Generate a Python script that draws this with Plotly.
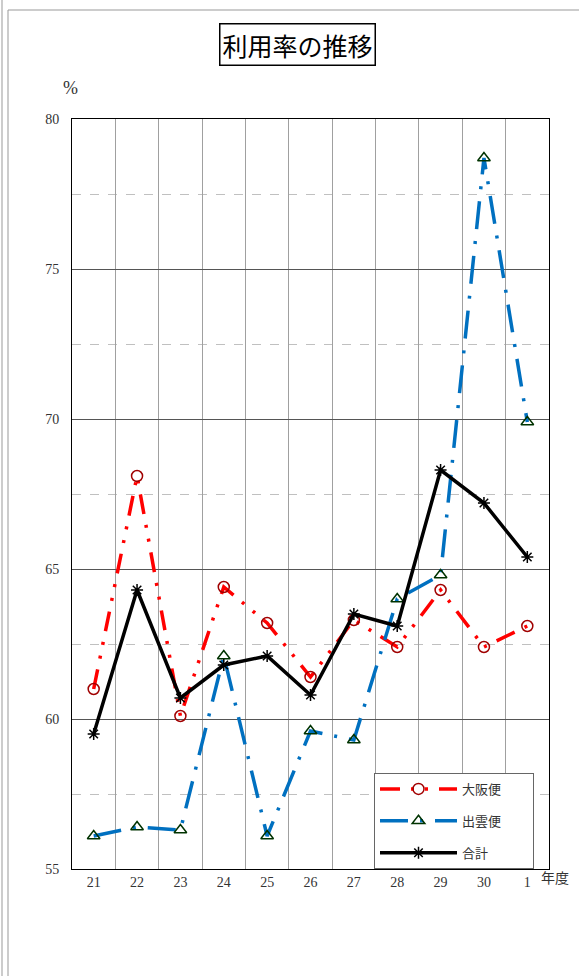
import plotly.graph_objects as go

years = ["21", "22", "23", "24", "25", "26", "27", "28", "29", "30", "1"]
osaka = [61.0, 68.1, 60.1, 64.4, 63.2, 61.4, 63.3, 62.4, 64.3, 62.4, 63.1]
izumo = [56.1, 56.4, 56.3, 62.1, 56.1, 59.6, 59.3, 64.0, 64.8, 78.7, 69.9]
total = [59.5, 64.3, 60.7, 61.8, 62.1, 60.8, 63.5, 63.1, 68.3, 67.2, 65.4]
y_ticks = [55, 60, 65, 70, 75, 80]

W, H = 579, 976
L, R, T, B = 72, 549, 119, 869


def px(x):
    return (x - L) / (R - L)


def py(y):
    return (B - y) / (B - T)


SERIF = "Liberation Serif, DejaVu Serif, serif"
SANS = "Noto Sans CJK JP, sans-serif"
PAD = "\u00a0" * 9

fig = go.Figure()
fig.add_trace(go.Scatter(
    x=years, y=osaka, name="大阪便" + PAD, mode="lines+markers", legendgroup="a",
    line=dict(color="#FF0000", width=3.5, dash="20px,11px,3px,11px,3px,11px"),
    marker=dict(symbol="circle-open", size=11, color="#A00000", line=dict(width=1.5, color="#A00000")),
))
fig.add_trace(go.Scatter(
    x=years, y=izumo, name="出雲便" + PAD, mode="lines+markers", legendgroup="b",
    line=dict(color="#0070C0", width=3.5, dash="28px,12px,3px,12px"),
    marker=dict(symbol="triangle-up-open", size=11, color="#003300", line=dict(width=1.5, color="#003300")),
))
fig.add_trace(go.Scatter(
    x=years, y=total, name="合計" + PAD, mode="lines+markers", legendgroup="c",
    line=dict(color="#000000", width=3.5),
    marker=dict(symbol="asterisk-open", size=10, color="#000000", line=dict(width=1.5, color="#000000")),
))

fig.update_layout(
    width=W, height=H,
    margin=dict(l=L, r=W - R, t=T, b=H - B, pad=0),
    paper_bgcolor="white", plot_bgcolor="white",
    showlegend=True,
    legend=dict(
        x=px(374), y=py(773), xanchor="left", yanchor="top",
        bgcolor="white", bordercolor="#666666", borderwidth=1,
        font=dict(family=SANS, size=13, color="#333333"),
        tracegroupgap=12, itemwidth=77,
    ),
    xaxis=dict(
        type="category", tickson="boundaries", ticks="",
        showgrid=True, gridcolor="#A0A0A0", gridwidth=1,
        showline=True, linecolor="#000000", linewidth=1, mirror=True,
        tickfont=dict(family=SERIF, size=14, color="#333333"),
        range=[-0.5, 10.5], zeroline=False,
    ),
    yaxis=dict(
        range=[55, 80], tickvals=y_ticks, ticks="",
        showgrid=True, gridcolor="#555555", gridwidth=1,
        minor=dict(tickvals=[57.5, 62.5, 67.5, 72.5, 77.5], showgrid=True,
                   gridcolor="#C0C0C0", griddash="dash", gridwidth=1, ticks=""),
        showline=True, linecolor="#000000", linewidth=1, mirror=True,
        tickfont=dict(family=SERIF, size=14, color="#333333"),
        ticklabelstandoff=9, zeroline=False,
    ),
    annotations=[
        dict(text="利用率の推移", x=px(297), y=py(45), xref="paper", yref="paper",
             xanchor="center", yanchor="middle",
             showarrow=False, font=dict(family=SANS, size=25, color="#000000"),
             bordercolor="#000000", borderwidth=1.5, borderpad=2, bgcolor="white"),
        dict(text="%", x=px(70), y=py(88), xref="paper", yref="paper",
             xanchor="center", yanchor="middle",
             showarrow=False, font=dict(family=SERIF, size=18, color="#333333")),
        dict(text="年度", x=px(555), y=py(877), xref="paper", yref="paper",
             xanchor="center", yanchor="middle",
             showarrow=False, font=dict(family=SANS, size=14, color="#333333")),
    ],
    shapes=[
        dict(type="line", xref="paper", yref="paper", x0=px(2), x1=px(2), y0=py(0), y1=py(976),
             line=dict(color="#999999", width=1)),
        dict(type="line", xref="paper", yref="paper", x0=px(8), x1=px(8), y0=py(10), y1=py(976),
             line=dict(color="#999999", width=1)),
        dict(type="line", xref="paper", yref="paper", x0=px(8), x1=px(579), y0=py(10), y1=py(10),
             line=dict(color="#999999", width=1)),
    ],
)

fig.write_html("out.html", config={"displayModeBar": False},
               post_script="document.body.style.margin='0px';document.body.style.overflow='hidden';")
